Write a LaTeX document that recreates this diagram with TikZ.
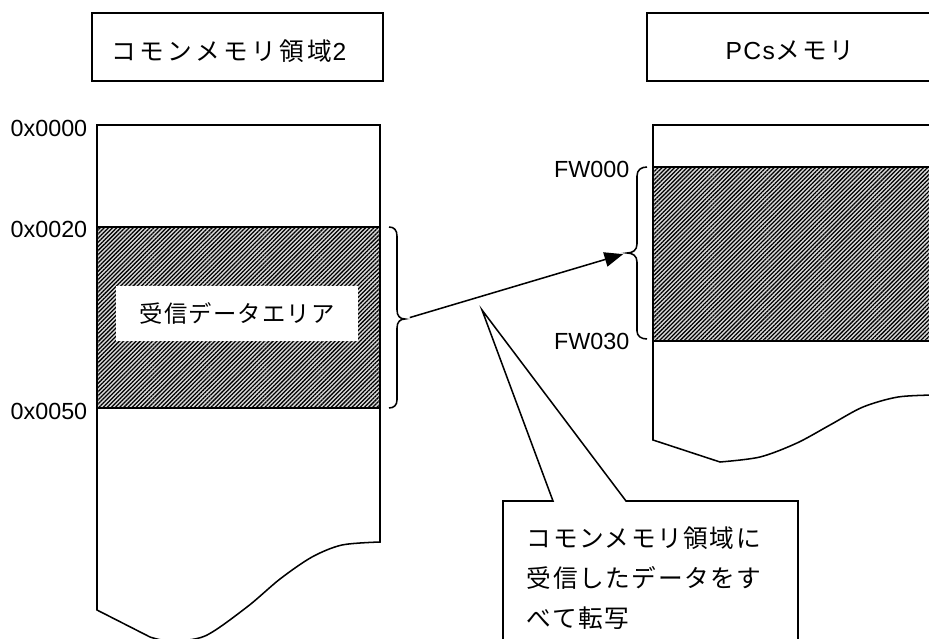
\documentclass[tikz,border=0pt]{standalone}
\usepackage{fontspec}
\setmainfont{Liberation Sans}
\newfontfamily\jpTitle[LetterSpace=14]{Noto Sans CJK JP}
\newfontfamily\jpTitleB[LetterSpace=11]{Noto Sans CJK JP}
\newfontfamily\jpLabel[LetterSpace=5]{Noto Sans CJK JP}
\newfontfamily\jpCall[LetterSpace=6.5]{Noto Sans CJK JP}
\newfontfamily\latSp[LetterSpace=6]{Liberation Sans}
\usetikzlibrary{patterns.meta,arrows.meta}
\begin{document}
\begin{tikzpicture}[x=0.75pt,y=-0.75pt,line width=1.15pt,
  titlebox/.style={draw,line width=1.15pt,minimum width=218.25pt,minimum height=51pt,inner sep=0pt},
  titletext/.style={inner sep=0pt,font=\fontsize{18.5}{22}\selectfont},
  addr/.style={anchor=east,inner sep=0pt,font=\fontsize{17.5}{20}\selectfont},
  hatch/.style={fill=gray!30,postaction={pattern={Lines[angle=45,distance=2.2pt,line width=0.95pt]},pattern color=black}},
  arrowline/.style={line width=1.15pt,-{Triangle[length=14pt,width=11pt]}},
  calltext/.style={anchor=north west,align=left,inner sep=0pt,font=\jpCall\fontsize{18.5}{30}\selectfont}]
\clip (0,0) rectangle (929,639);
% title boxes
\node (t1box) [titlebox] at (237.5,46.85) {};
\node (t1text) [titletext] at (229,51) {{\jpTitle コモンメモリ領域}2};
\node (t2box) [titlebox,minimum width=219.75pt] at (793.5,46.85) {};
\node (t2text) [titletext] at (790,51) {{\latSp PCs}{\jpTitleB メモリ}};
% left memory
\path[hatch] (97,227) rectangle (380,408);
\draw (97,125) -- (380,125) -- (380,542) -- plot[smooth] coordinates {(380,542) (342,545) (312,557) (280,579) (247,607) (205,636) (170,641) (150,637)} -- (97,610) -- cycle;
\draw (97,227) -- (380,227);
\draw (97,408) -- (380,408);
\node (area) [fill=white,inner sep=0pt,minimum width=181.5pt,minimum height=41.25pt,font=\jpLabel\fontsize{17.5}{20}\selectfont] at (237,313.5) {受信データエリア};
\node (a0) [addr] at (88,128) {0x0000};
\node (a20) [addr] at (88,229) {0x0020};
\node (a50) [addr] at (88,411) {0x0050};
% right memory
\path[hatch] (653,167) rectangle (935,341);
\draw (935,125) -- (653,125) -- (653,440) -- (720,462) -- plot[smooth] coordinates {(720,462) (760,457) (797,443) (830,425) (863,407) (898,397) (935,395)};
\draw (653,167) -- (935,167);
\draw (653,341) -- (935,341);
\node (fw0) [addr] at (630,169) {FW000};
\node (fw30) [addr] at (630,341) {FW030};
% braces
\coordinate (lb) at (405,319);
\coordinate (rb) at (627,253);
\draw (389,227) .. controls (394,227) and (397,230) .. (397,236) -- (397,310) .. controls (397,316) and (400,319) .. (lb) .. controls (400,319) and (397,322) .. (397,328) -- (397,400) .. controls (397,405) and (394,408) .. (389,408);
\draw (647,167) .. controls (641,167) and (637,170) .. (637,176) -- (637,244) .. controls (637,250) and (633,253) .. (rb) .. controls (633,253) and (637,256) .. (637,262) -- (637,331) .. controls (637,336) and (641,339) .. (647,339);
% arrow
\draw[arrowline,shorten <=3.75pt,shorten >=3pt] (lb) -- (rb);
% callout
\coordinate (ptr) at (482,310);
\draw[fill=white] (503,650) -- (503,501) -- (553,501) -- (ptr) -- (626,501) -- (798,501) -- (798,650);
\node (note) [calltext] at (526,526) {コモンメモリ領域に\\受信したデータをす\\べて転写};
\end{tikzpicture}
\end{document}
